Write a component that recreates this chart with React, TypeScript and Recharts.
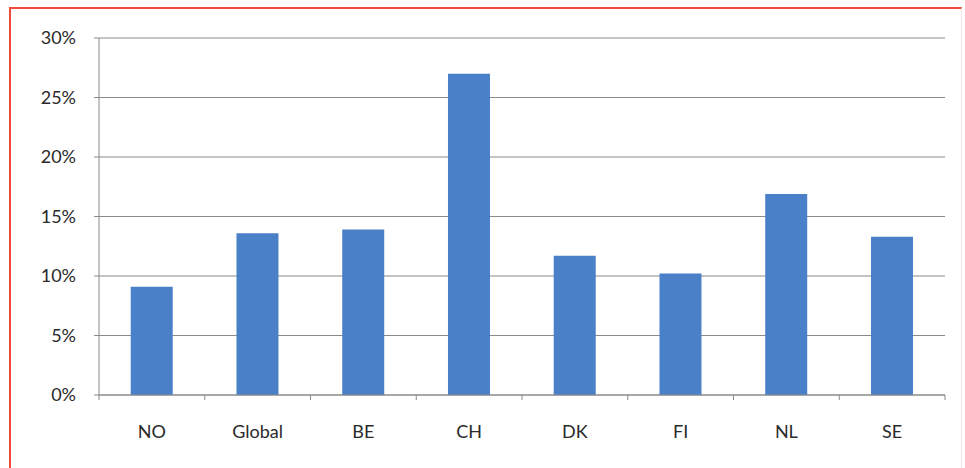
import React from "react"
import { BarChart, Bar, XAxis, YAxis, CartesianGrid } from "recharts"

// catégories et valeurs (en %)
const countries = ["NO", "Global", "BE", "CH", "DK", "FI", "NL", "SE"]
const shares = [9.1, 13.6, 13.9, 27.0, 11.7, 10.2, 16.9, 13.3]
const yTicks = [0, 5, 10, 15, 20, 25, 30]

const data = countries.map((name, i) => ({ name, value: shares[i] }))

const FONT = "Lato, 'Open Sans', sans-serif"
const AXIS = "#8a8a8a"

// étiquette de catégorie + petit trait de graduation entre les catégories
function CategoryTick(props: any) {
  const { x, y, payload, width, visibleTicksCount, index } = props
  const band = width / (visibleTicksCount || countries.length)
  const axisY = y - 30
  return (
    <g>
      <line x1={x - band / 2} x2={x - band / 2} y1={axisY} y2={axisY + 5} stroke={AXIS} />
      {index === visibleTicksCount - 1 && (
        <line x1={x + band / 2} x2={x + band / 2} y1={axisY} y2={axisY + 5} stroke={AXIS} />
      )}
      <text x={x} y={y} dy="0.71em" textAnchor="middle" fontSize={18} fill="#2a2a2a" fontFamily={FONT}>
        {payload.value}
      </text>
    </g>
  )
}

export default function App() {
  return (
    <div
      style={{
        position: "fixed",
        top: 0,
        left: 0,
        width: 965,
        height: 468,
        background: "#fff",
      }}
    >
      <div
        style={{
          position: "absolute",
          top: 7,
          left: 9,
          width: 953,
          height: 470,
          borderTop: "2px solid #f04a3a",
          borderLeft: "2px solid #f04a3a",
          borderRight: "1px solid #fbe3e3",
          boxSizing: "border-box",
        }}
      />
      <div style={{ position: "absolute", top: 0, left: 0 }}>
        <BarChart
          width={965}
          height={468}
          data={data}
          margin={{ top: 38, right: 20, bottom: 43, left: 39 }}
          barCategoryGap="30%"
        >
          <CartesianGrid vertical={false} stroke={AXIS} strokeWidth={1.2} />
          <XAxis
            dataKey="name"
            height={30}
            axisLine={{ stroke: AXIS }}
            tickLine={false}
            tickSize={0}
            tickMargin={30}
            tick={<CategoryTick />}
            interval={0}
          />
          <YAxis
            width={60}
            domain={[0, 30]}
            ticks={yTicks}
            interval={0}
            tickFormatter={(v: number) => `${v}%`}
            axisLine={{ stroke: AXIS }}
            tickLine={{ stroke: AXIS }}
            tickSize={5}
            tickMargin={18}
            tick={{ fontSize: 18, fill: "#2a2a2a", fontFamily: FONT }}
          />
          <Bar dataKey="value" fill="#4a80c8" isAnimationActive={false} />
        </BarChart>
      </div>
    </div>
  )
}
